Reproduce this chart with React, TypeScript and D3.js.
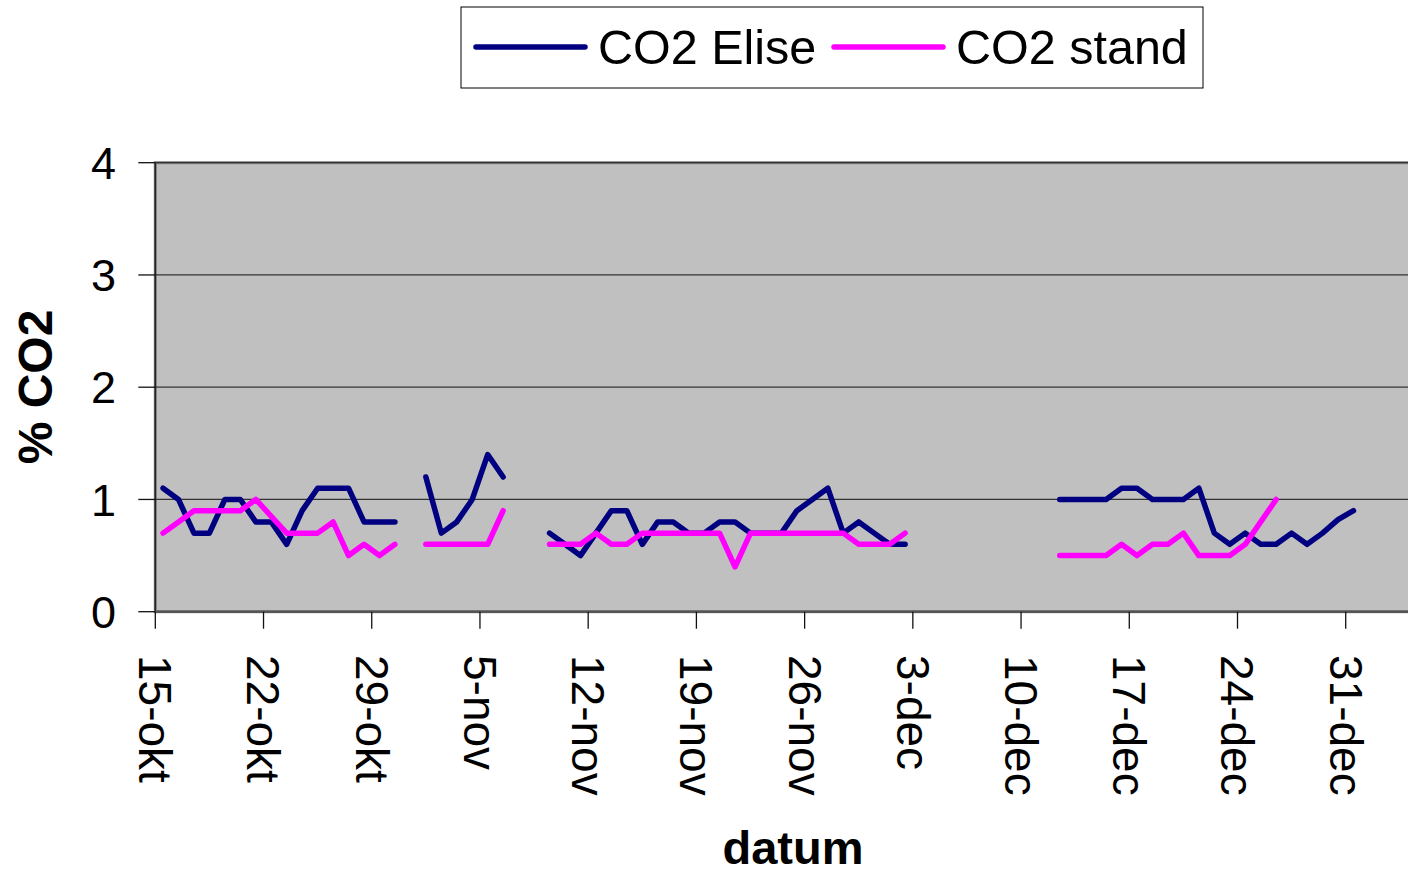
import React from "react";
import * as d3 from "d3";

// ---- Data (one value per day starting 15-okt; null = no measurement) ----
const startDate = new Date(2000, 9, 15);
const tickLabels = ["15-okt", "22-okt", "29-okt", "5-nov", "12-nov", "19-nov", "26-nov", "3-dec", "10-dec", "17-dec", "24-dec", "31-dec"];
const yTicks = [0, 1, 2, 3, 4];
const seriesNames = ["CO2 Elise", "CO2 stand"];
const seriesColors = ["#000080", "#FF00FF"];

const co2Elise: (number | null)[] = [
  1.1, 1.0, 0.7, 0.7, 1.0, 1.0, 0.8, 0.8, 0.6, 0.9, 1.1, 1.1, 1.1, 0.8, 0.8, 0.8,
  null,
  1.2, 0.7, 0.8, 1.0, 1.4, 1.2,
  null, null,
  0.7, 0.6, 0.5, 0.7, 0.9, 0.9, 0.6, 0.8, 0.8, 0.7, 0.7, 0.8, 0.8, 0.7, 0.7, 0.7,
  0.9, 1.0, 1.1, 0.7, 0.8, 0.7, 0.6, 0.6,
  null, null, null, null, null, null, null, null, null,
  1.0, 1.0, 1.0, 1.0, 1.1, 1.1, 1.0, 1.0, 1.0, 1.1, 0.7, 0.6, 0.7, 0.6, 0.6, 0.7,
  0.6, 0.7, 0.82, 0.9,
];

const co2Stand: (number | null)[] = [
  0.7, 0.8, 0.9, 0.9, 0.9, 0.9, 1.0, 0.85, 0.7, 0.7, 0.7, 0.8, 0.5, 0.6, 0.5, 0.6,
  null,
  0.6, 0.6, 0.6, 0.6, 0.6, 0.9,
  null, null,
  0.6, 0.6, 0.6, 0.7, 0.6, 0.6, 0.7, 0.7, 0.7, 0.7, 0.7, 0.7, 0.4, 0.7, 0.7, 0.7,
  0.7, 0.7, 0.7, 0.7, 0.6, 0.6, 0.6, 0.7,
  null, null, null, null, null, null, null, null, null,
  0.5, 0.5, 0.5, 0.5, 0.6, 0.5, 0.6, 0.6, 0.7, 0.5, 0.5, 0.5, 0.6, 0.8, 1.0,
  null, null, null, null, null,
];

const W = 1408;
const H = 872;
const plotLeft = 155.3;
const plotTop = 162.7;
const plotBottom = 611.7;
const dayPx = 15.46;

export default function App() {
  const endDate = d3.timeDay.offset(startDate, 84);
  const x = d3
    .scaleTime()
    .domain([startDate, endDate])
    .range([plotLeft, plotLeft + 84 * dayPx]);
  const y = d3.scaleLinear().domain([0, 4]).range([plotBottom, plotTop]);

  const tickDates = tickLabels.map((_, i) => d3.timeDay.offset(startDate, i * 7));

  const toPoints = (vals: (number | null)[]) =>
    vals.map((v, i) => ({ date: d3.timeHour.offset(d3.timeDay.offset(startDate, i), 12), v }));

  const line = d3
    .line<{ date: Date; v: number | null }>()
    .defined((d) => d.v !== null)
    .x((d) => x(d.date))
    .y((d) => y(d.v as number));

  const series = [co2Elise, co2Stand];
  const font = "Arial, 'Liberation Sans', sans-serif";

  return (
    <div style={{ position: "absolute", left: 0, top: 0 }}>
      <svg width={W} height={H} style={{ display: "block", background: "#fff" }} fontFamily={font}>
        {/* plot area */}
        <rect x={plotLeft} y={plotTop} width={W - plotLeft + 10} height={plotBottom - plotTop} fill="#C0C0C0" stroke="#808080" strokeWidth={3} />
        {/* gridlines */}
        {yTicks.slice(1).map((t) => (
          <line key={t} x1={plotLeft} x2={W} y1={y(t)} y2={y(t)} stroke="#333" strokeWidth={1.2} />
        ))}
        {/* y axis */}
        <line x1={plotLeft} x2={plotLeft} y1={plotTop} y2={plotBottom} stroke="#222" strokeWidth={1.5} />
        {yTicks.map((t) => (
          <g key={t}>
            <line x1={plotLeft - 17} x2={plotLeft} y1={y(t)} y2={y(t)} stroke="#111" strokeWidth={1.3} />
            <text x={116} y={y(t)} dy="0.36em" textAnchor="end" fontSize={45} fill="#000">
              {t}
            </text>
          </g>
        ))}
        {/* x axis */}
        <line x1={plotLeft} x2={W} y1={plotBottom} y2={plotBottom} stroke="#555" strokeWidth={2.5} />
        {tickDates.map((d, i) => (
          <g key={i}>
            <line x1={x(d)} x2={x(d)} y1={plotBottom} y2={plotBottom + 17} stroke="#111" strokeWidth={1.3} />
            <text
              transform={`translate(${x(d)},655) rotate(90)`}
              dy="0.35em"
              textAnchor="start"
              fontSize={46}
              fill="#000"
            >
              {tickLabels[i]}
            </text>
          </g>
        ))}
        {/* series */}
        {series.map((s, i) => (
          <path
            key={i}
            d={line(toPoints(s)) || ""}
            fill="none"
            stroke={seriesColors[i]}
            strokeWidth={5.5}
            strokeLinejoin="round"
            strokeLinecap="round"
          />
        ))}
        {/* axis titles */}
        <text x={793} y={864} textAnchor="middle" fontSize={47} fontWeight="bold" fill="#000">
          datum
        </text>
        <text transform="translate(52,387) rotate(-90)" textAnchor="middle" fontSize={48} fontWeight="bold" fill="#000">
          % CO2
        </text>
        {/* legend */}
        <rect x={461} y={7} width={742} height={81} fill="#fff" stroke="#000" strokeWidth={1} />
        {seriesNames.map((n, i) => {
          const lx = i === 0 ? 476 : 834;
          return (
            <g key={n}>
              <line x1={lx} x2={lx + 109} y1={47} y2={47} stroke={seriesColors[i]} strokeWidth={5.5} strokeLinecap="round" />
              <text x={lx + 122} y={47} dy="0.36em" fontSize={48.5} fill="#000">
                {n}
              </text>
            </g>
          );
        })}
      </svg>
    </div>
  );
}
